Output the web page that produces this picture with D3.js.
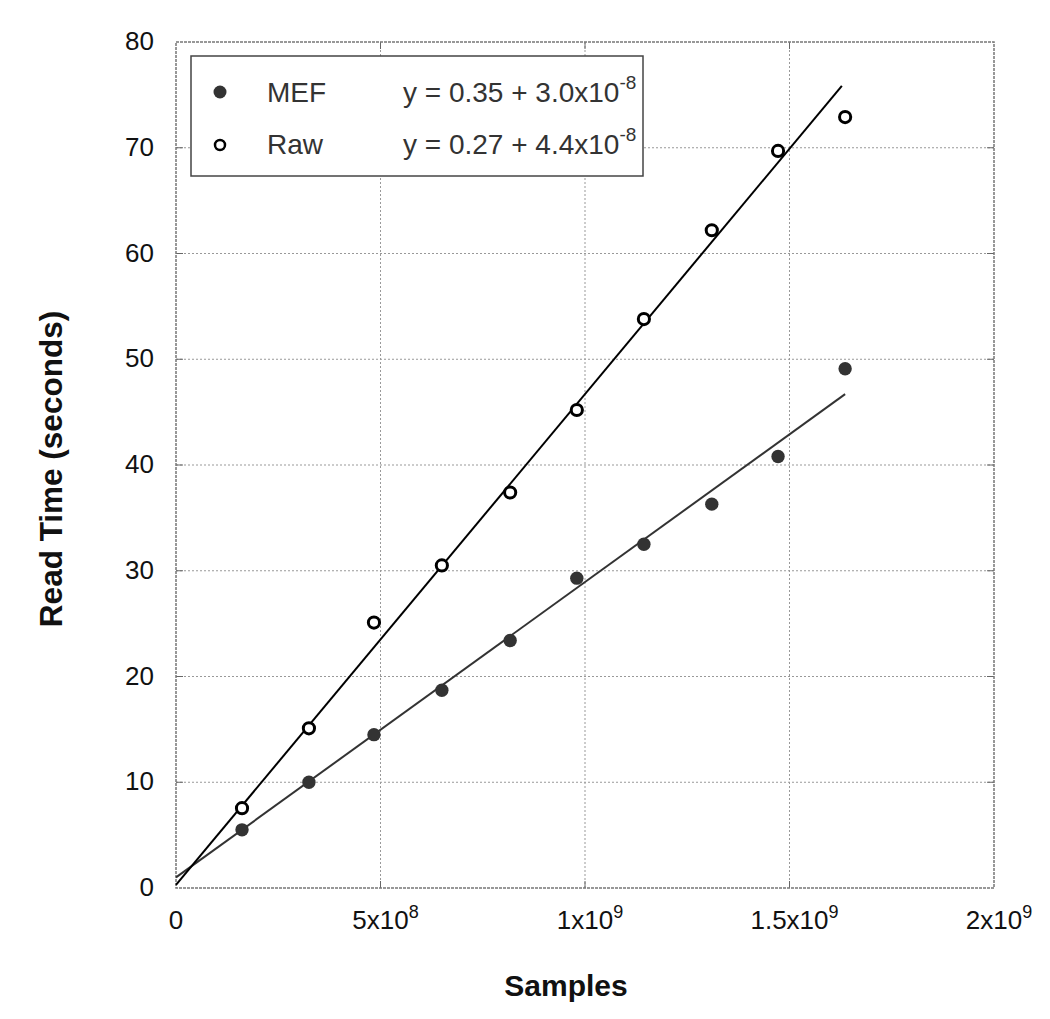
<!DOCTYPE html>
<html><head><meta charset="utf-8">
<script src="https://cdn.jsdelivr.net/npm/d3@7"></script>
<style>body{margin:0;background:#fff;} text{font-family:"Liberation Sans",Arial,sans-serif;}</style>
</head><body>
<svg id="c" width="1050" height="1019"></svg>
<script>
const samples = [1.614e8, 3.25e8, 4.84e8, 6.50e8, 8.17e8, 9.80e8, 1.144e9, 1.31e9, 1.472e9, 1.636e9];
const mefTime = [5.5, 10.0, 14.5, 18.7, 23.4, 29.3, 32.5, 36.3, 40.8, 49.1];
const rawTime = [7.55, 15.1, 25.1, 30.5, 37.4, 45.2, 53.8, 62.2, 69.7, 72.9];
// drawn fit lines [x0, y0, x1, y1]
const mefFit = [0, 1.0, 1.636e9, 46.7];
const rawFit = [0, 0.3, 1.628e9, 75.85];
const xTicks = [0, 5e8, 1e9, 1.5e9, 2e9];
const xTickLabels = [["0",""],["5x10","8"],["1x10","9"],["1.5x10","9"],["2x10","9"]];
const yTicks = [0,10,20,30,40,50,60,70,80];
const legendNames = ["MEF","Raw"];
const legendEq = [["y = 0.35 + 3.0x10","-8"],["y = 0.27 + 4.4x10","-8"]];

const svg = d3.select("#c");
const L=176, R=994, T=42, B=888;
const x = d3.scaleLinear().domain([0,2e9]).range([L,R]);
const y = d3.scaleLinear().domain([0,80]).range([B,T]);

// grid
const g = svg.append("g");
g.selectAll(".gx").data(xTicks.slice(1,-1)).join("line")
 .attr("x1",d=>x(d)).attr("x2",d=>x(d)).attr("y1",T).attr("y2",B)
 .attr("stroke","#999").attr("stroke-dasharray","2,2");
g.selectAll(".gy").data(yTicks.slice(1,-1)).join("line")
 .attr("y1",d=>y(d)).attr("y2",d=>y(d)).attr("x1",L).attr("x2",R)
 .attr("stroke","#999").attr("stroke-dasharray","2,2");
// inner ticks
const tk=7;
yTicks.slice(1,-1).forEach(v=>{
  g.append("line").attr("x1",L).attr("x2",L+tk).attr("y1",y(v)).attr("y2",y(v)).attr("stroke","#666");
  g.append("line").attr("x1",R-tk).attr("x2",R).attr("y1",y(v)).attr("y2",y(v)).attr("stroke","#666");
});
xTicks.slice(1,-1).forEach(v=>{
  g.append("line").attr("y1",B).attr("y2",B-tk).attr("x1",x(v)).attr("x2",x(v)).attr("stroke","#666");
  g.append("line").attr("y1",T).attr("y2",T+tk).attr("x1",x(v)).attr("x2",x(v)).attr("stroke","#666");
});
// frame
svg.append("rect").attr("x",L).attr("y",T).attr("width",R-L).attr("height",B-T)
 .attr("fill","none").attr("stroke","#777").attr("stroke-width",1.5).attr("stroke-dasharray","3,1");

// tick labels
svg.selectAll(".yl").data(yTicks).join("text")
 .attr("x",154).attr("y",d=>y(d)+8).attr("text-anchor","end")
 .attr("font-size",26).attr("fill","#111").text(d=>d);
const xl = svg.selectAll(".xl").data(xTicks).join("text")
 .attr("x",d=>x(d)).attr("y",929).attr("text-anchor","middle")
 .attr("font-size",26).attr("fill","#111");
xl.each(function(d,i){
  const t=d3.select(this);
  t.append("tspan").text(xTickLabels[i][0]);
  if(xTickLabels[i][1]) t.append("tspan").attr("dy",-11).attr("font-size",18).text(xTickLabels[i][1]);
});
xl.attr("dx",(d,i)=>xTickLabels[i][1]?5:0);

// axis titles
svg.append("text").attr("x",566).attr("y",996).attr("text-anchor","middle")
 .attr("font-size",30).attr("font-weight","bold").attr("fill","#111").text("Samples");
svg.append("text").attr("transform","translate(62,469) rotate(-90)").attr("text-anchor","middle")
 .attr("font-size",31.5).attr("font-weight","bold").attr("fill","#111").text("Read Time (seconds)");

// fit lines
svg.append("line").attr("x1",x(mefFit[0])).attr("y1",y(mefFit[1])).attr("x2",x(mefFit[2])).attr("y2",y(mefFit[3]))
 .attr("stroke","#333").attr("stroke-width",2);
svg.append("line").attr("x1",x(rawFit[0])).attr("y1",y(rawFit[1])).attr("x2",x(rawFit[2])).attr("y2",y(rawFit[3]))
 .attr("stroke","#000").attr("stroke-width",2);

// points
svg.selectAll(".m").data(samples).join("circle")
 .attr("cx",d=>x(d)).attr("cy",(d,i)=>y(mefTime[i])).attr("r",6.7).attr("fill","#333");
svg.selectAll(".r").data(samples).join("circle")
 .attr("cx",d=>x(d)).attr("cy",(d,i)=>y(rawTime[i])).attr("r",5.6)
 .attr("fill","#fff").attr("stroke","#000").attr("stroke-width",3);

// legend
svg.append("rect").attr("x",191).attr("y",56).attr("width",452).attr("height",120)
 .attr("fill","#fff").attr("stroke","#444").attr("stroke-width",1.5);
const ly=[92,145];
const lb=[102,154];
svg.append("circle").attr("cx",220).attr("cy",ly[0]).attr("r",6.5).attr("fill","#333");
svg.append("circle").attr("cx",220).attr("cy",ly[1]).attr("r",5).attr("fill","#fff").attr("stroke","#000").attr("stroke-width",2.5);
legendNames.forEach((n,i)=>{
  svg.append("text").attr("x",267).attr("y",lb[i]).attr("font-size",28).attr("fill","#333").text(n);
  const t=svg.append("text").attr("x",403).attr("y",lb[i]).attr("font-size",28).attr("fill","#333");
  t.append("tspan").text(legendEq[i][0]);
  t.append("tspan").attr("dy",-13).attr("font-size",19).text(legendEq[i][1]);
});
</script>
</body></html>
